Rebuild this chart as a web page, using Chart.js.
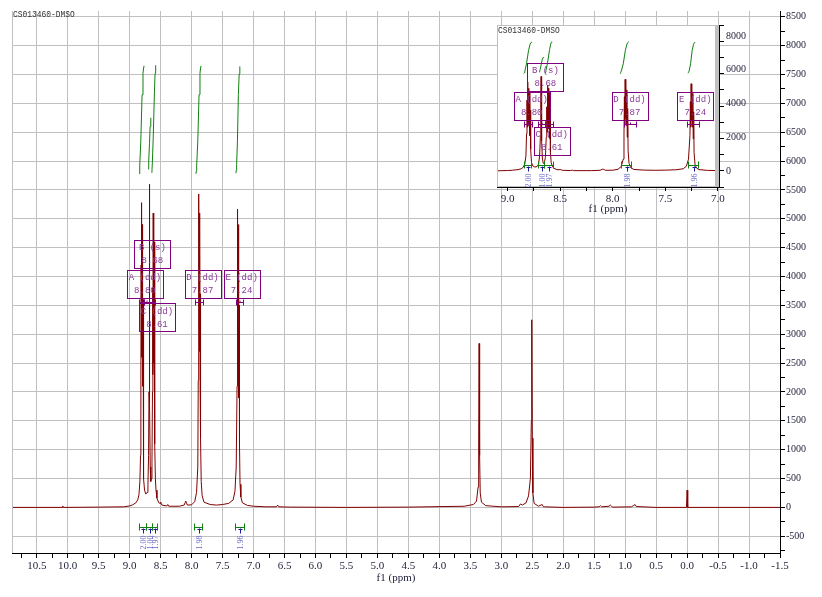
<!DOCTYPE html>
<html lang="en">
<head>
<meta charset="UTF-8">
<title>CS013460-DMSO</title>
<style>
  body { margin: 0; background: #fff; }
  #wrap { position: relative; width: 822px; height: 597px; }
  #mainChart { position: absolute; left: 0; top: 0; }
  #insetChart { position: absolute; left: 480px; top: 12px; }
</style>
</head>
<body>
<div id="wrap">
  <canvas id="mainChart" width="822" height="597"></canvas>
  <canvas id="insetChart" width="290" height="215"></canvas>
</div>
<script src="https://cdn.jsdelivr.net/npm/chart.js"></script>
<script>
// spectrum (ppm / intensity)
const specPpm = [
  10.9, 10.09, 10.08, 10.07, 9.5, 9.1, 9.0, 8.95, 8.9, 8.87, 8.85, 8.835, 8.825,
  8.819, 8.815, 8.812, 8.808, 8.804, 8.800, 8.796, 8.792, 8.788, 8.784, 8.780, 8.772,
  8.76, 8.74, 8.72, 8.705, 8.695,
  8.688, 8.684, 8.681, 8.678, 8.674, 8.668, 8.66, 8.65, 8.64,
  8.632, 8.627, 8.624, 8.620, 8.616, 8.612, 8.608, 8.604, 8.600, 8.596, 8.592, 8.585, 8.575,
  8.56, 8.53, 8.51, 8.50, 8.48, 8.40, 8.385, 8.37, 8.2, 8.12, 8.095, 8.085, 8.07, 8.0, 7.95, 7.92, 7.90,
  7.893, 7.889, 7.886, 7.882, 7.878, 7.874, 7.870, 7.866, 7.862, 7.858, 7.854, 7.845,
  7.83, 7.8, 7.7, 7.6, 7.5, 7.4, 7.33, 7.3, 7.28,
  7.266, 7.262, 7.259, 7.255, 7.251, 7.247, 7.243, 7.239, 7.235, 7.231, 7.227, 7.218,
  7.205, 7.18, 7.1, 7.0, 6.8, 6.63, 6.61, 6.59, 6.4, 5.5, 4.5, 3.6, 3.45, 3.4,
  3.375, 3.365, 3.358, 3.35, 3.34, 3.32, 3.25, 3.0,
  2.72, 2.69, 2.66, 2.6, 2.56, 2.53, 2.515, 2.508, 2.5, 2.49, 2.47, 2.4, 2.34, 2.32, 2.3,
  2.0, 1.5, 1.42, 1.4, 1.38, 1.26, 1.24, 1.22, 1.2, 0.9, 0.86, 0.84, 0.82, 0.5, 0.01, 0.0, -0.01, -1.5
];
const specInt = [
  0, 0, 25, 0, 5, 10, 25, 45, 80, 130, 220, 450, 900,
  2200, 4200, 2600, 5280, 3100, 4900, 2700, 4700, 2100, 3600, 1300, 500,
  300, 230, 260, 400, 900,
  2000, 4200, 5600, 4000, 1800, 700, 450, 500, 800,
  2000, 3800, 2300, 5100, 2900, 4900, 2500, 4600, 1900, 3300, 1100, 500, 300,
  160, 80, 70, 90, 40, 25, 50, 20, 20, 40, 110, 90, 40, 45, 100, 260, 700,
  2200, 4400, 2700, 5430, 3100, 5100, 2700, 4800, 2000, 3700, 1200, 450,
  200, 90, 50, 40, 50, 70, 130, 280, 700,
  2100, 4100, 2600, 5170, 3000, 4900, 2600, 4600, 1900, 3500, 1100, 400,
  180, 80, 35, 20, 10, 10, 40, 10, 5, 0, 5, 20, 50, 110,
  350, 1200, 2840, 900, 250, 90, 30, 10,
  15, 60, 40, 80, 200, 500, 1500, 3250, 1200, 250, 70, 20, 50, 10, 10,
  0, 5, 10, 30, 10, 20, 40, 20, 5, 10, 35, 50, 15, 0, 0, 300, 0, 0
];

// integral curves
const intPpmA = [8.845, 8.84, 8.835, 8.82, 8.80, 8.785, 8.775, 8.77];
const intValA = [5780, 5830, 5930, 6350, 7150, 7520, 7620, 7650];
const intPpmB = [8.70, 8.695, 8.69, 8.68, 8.67, 8.662, 8.656];
const intValB = [5860, 5900, 6000, 6300, 6600, 6720, 6750];
const intPpmC = [8.645, 8.64, 8.635, 8.62, 8.60, 8.59, 8.583, 8.578];
const intValC = [5800, 5850, 5950, 6400, 7200, 7520, 7620, 7660];
const intPpmD = [7.93, 7.925, 7.918, 7.90, 7.88, 7.865, 7.855, 7.85];
const intValD = [5780, 5830, 5930, 6350, 7150, 7520, 7620, 7650];
const intPpmE = [7.285, 7.28, 7.273, 7.26, 7.245, 7.232, 7.224, 7.219];
const intValE = [5790, 5840, 5940, 6350, 7150, 7510, 7610, 7640];

const peakNames = ['A (dd)', 'B (s)', 'C (dd)', 'D (dd)', 'E (dd)'];
const peakShifts = ['8.80', '8.68', '8.61', '7.87', '7.24'];
const integralLabels = ['2.00', '1.00', '1.97', '1.98', '1.96'];
const insetYLabels = [0, 2000, 4000, 6000, 8000];
const titleText = 'CS013460-DMSO';

const pts = (xs, ys) => xs.map((x, i) => ({ x: x, y: ys[i] }));
const isHalf = v => Math.abs(v * 2 - Math.round(v * 2)) < 1e-6;
const tickFont = { family: 'Liberation Serif', size: 11 };

function datasets() {
  const ds = [{ data: pts(specPpm, specInt), borderColor: '#800000', borderWidth: 1 }];
  [[intPpmA, intValA], [intPpmB, intValB], [intPpmC, intValC], [intPpmD, intValD], [intPpmE, intValE]]
    .forEach(p => ds.push({ data: pts(p[0], p[1]), borderColor: '#108010', borderWidth: 1 }));
  ds.forEach(d => { d.showLine = true; d.pointRadius = 0; d.tension = 0; });
  return ds;
}

// labels, range markers, integral markers
const nmrMarks = {
  id: 'nmrMarks',
  beforeDraw(chart, args, o) {
    if (!o.whiteArea) return;
    const a = chart.chartArea, c = chart.ctx;
    c.save();
    c.fillStyle = '#fff';
    c.fillRect(a.left, a.top, a.right - a.left, a.bottom - a.top);
    c.restore();
  },
  afterDraw(chart, args, o) {
    const c = chart.ctx, xs = chart.scales.x, ys = chart.scales.y, a = chart.chartArea;
    c.save();
    if (o.whiteArea) {
      c.strokeStyle = '#c0c0c0';
      c.lineWidth = 1;
      c.strokeRect(a.left + 0.5, a.top + 0.5, a.right - a.left - 1, a.bottom - a.top - 1);
      c.fillStyle = '#c0c0c0';
      c.fillRect(a.right - 4, a.top, 3, a.bottom - a.top);
      // y labels of the inset
      c.font = '10px "Liberation Serif"';
      c.fillStyle = '#1e1e38';
      c.textAlign = 'left';
      c.textBaseline = 'middle';
      insetYLabels.forEach(v => c.fillText(String(v), a.right + 7, ys.getPixelForValue(v)));
    } else {
      c.strokeStyle = '#c0c0c0';
      c.beginPath();
      c.moveTo(a.left + 0.5, a.top); c.lineTo(a.left + 0.5, a.bottom);
      c.stroke();
    }
    c.save();
    c.font = '9px "Liberation Mono"';
    c.fillStyle = '#303030';
    c.textAlign = 'left';
    c.textBaseline = 'middle';
    c.translate(a.left + 1, a.top + o.titleDy);
    c.scale(0.88, 1);
    c.fillText(titleText, 0, 0);
    c.restore();

    // peak label boxes
    c.font = '9px "Liberation Mono"';
    c.textBaseline = 'middle';
    o.boxes.forEach((b, i) => {
      const x = xs.getPixelForValue(b[0]), y = ys.getPixelForValue(b[1]);
      c.strokeStyle = '#800080';
      c.lineWidth = 1;
      c.strokeRect(Math.round(x - 18) + 0.5, Math.round(y - 14) + 0.5, 36, 28);
      c.fillStyle = '#8a3a9a';
      c.textAlign = 'center';
      c.fillText(peakNames[i], x, y - 6);
      c.fillText(peakShifts[i], x, y + 7);
    });

    // multiplet range markers
    const ry = Math.round(ys.getPixelForValue(o.rangeY)) + 0.5;
    c.strokeStyle = '#800080';
    o.ranges.forEach(r => {
      const x1 = Math.round(xs.getPixelForValue(r[0])) + 0.5, x2 = Math.round(xs.getPixelForValue(r[1])) + 0.5;
      c.beginPath();
      c.moveTo(x1, ry); c.lineTo(x2, ry);
      c.moveTo(x1, ry - 3); c.lineTo(x1, ry + 3);
      c.moveTo(x2, ry - 3); c.lineTo(x2, ry + 3);
      c.moveTo((x1 + x2) / 2, ry - 2); c.lineTo((x1 + x2) / 2, ry);
      c.stroke();
    });

    // integral markers with values
    const iy = Math.round(ys.getPixelForValue(o.intY)) + 0.5;
    o.ints.forEach((r, i) => {
      const x1 = Math.round(xs.getPixelForValue(r[0])) + 0.5, x2 = Math.round(xs.getPixelForValue(r[1])) + 0.5;
      const xm = Math.round((x1 + x2) / 2) + 0.5;
      c.strokeStyle = '#108010';
      c.beginPath();
      c.moveTo(x1, iy); c.lineTo(x2, iy);
      c.moveTo(x1, iy - 4); c.lineTo(x1, iy + 3);
      c.moveTo(x2, iy - 4); c.lineTo(x2, iy + 3);
      c.stroke();
      c.strokeStyle = '#1a1aa0';
      c.beginPath();
      c.moveTo(xm, iy + 1); c.lineTo(xm, iy + 6);
      c.moveTo(xm - 2, iy + 2); c.lineTo(xm + 2, iy + 2);
      c.stroke();
      c.save();
      c.translate(xm, iy + 8);
      c.rotate(-Math.PI / 2);
      c.font = '8px "Liberation Serif"';
      c.fillStyle = '#6a6ac8';
      c.textAlign = 'right';
      c.textBaseline = 'middle';
      c.fillText(integralLabels[i], 0, 0);
      c.restore();
    });
    c.restore();
  }
};

function xScale(min, max, h, titlePad) {
  return {
    type: 'linear', reverse: true, min: min, max: max,
    afterFit: s => { s.height = h; },
    ticks: {
      stepSize: 0.25, includeBounds: false, autoSkip: false, maxRotation: 0, padding: 2,
      color: '#1e1e38', font: tickFont,
      callback: v => isHalf(v) ? v.toFixed(1) : ''
    },
    border: { color: '#000', width: 1 },
    title: { display: true, text: 'f1 (ppm)', color: '#1e1e38', font: tickFont, padding: { top: 0, bottom: titlePad } }
  };
}

new Chart(document.getElementById('mainChart'), {
  type: 'scatter',
  data: { datasets: datasets() },
  options: {
    responsive: false,
    animation: false,
    layout: { padding: { left: 12, top: 11, right: 0, bottom: 0 } },
    plugins: {
      legend: { display: false },
      tooltip: { enabled: false },
      nmrMarks: {
        titleDy: 4,
        boxes: [[8.754, 3875], [8.633, 4395], [8.56, 3290], [7.824, 3875], [7.193, 3875]],
        rangeY: 3560,
        ranges: [[8.85, 8.77], [8.77, 8.68], [8.68, 8.59], [7.94, 7.82], [7.29, 7.17]],
        intY: -346,
        ints: [[8.85, 8.74], [8.74, 8.645], [8.645, 8.555], [7.96, 7.83], [7.30, 7.16]]
      }
    },
    scales: {
      x: Object.assign(xScale(-1.5, 10.9, 44, 12), {
        grid: {
          color: ctx => (ctx.tick && isHalf(ctx.tick.value)) ? '#c0c0c0' : 'rgba(0,0,0,0)',
          tickColor: '#000', tickLength: 5
        }
      }),
      y: {
        position: 'right', min: -790, max: 8600,
        afterFit: s => { s.width = 42; },
        ticks: {
          stepSize: 250, includeBounds: false, autoSkip: false, padding: 1, color: '#1e1e38',
          font: { family: 'Liberation Serif', size: 10 },
          callback: v => (v % 500 === 0) ? String(v) : ''
        },
        grid: {
          color: ctx => (ctx.tick && ctx.tick.value % 500 === 0) ? '#c0c0c0' : 'rgba(0,0,0,0)',
          tickColor: '#000', tickLength: 5
        },
        border: { color: '#000', width: 1 }
      }
    }
  },
  plugins: [nmrMarks]
});

new Chart(document.getElementById('insetChart'), {
  type: 'scatter',
  data: { datasets: datasets() },
  options: {
    responsive: false,
    animation: false,
    layout: { padding: { left: 17, top: 13, right: 0, bottom: 0 } },
    plugins: {
      legend: { display: false },
      tooltip: { enabled: false },
      nmrMarks: {
        whiteArea: true,
        titleDy: 6,
        boxes: [[8.77, 3850], [8.64, 5590], [8.58, 1800], [7.84, 3850], [7.215, 3850]],
        rangeY: 2780,
        ranges: [[8.845, 8.77], [8.715, 8.645], [8.645, 8.57], [7.89, 7.78], [7.29, 7.18]],
        intY: 350,
        ints: [[8.845, 8.775], [8.706, 8.652], [8.652, 8.566], [7.925, 7.83], [7.28, 7.19]]
      }
    },
    scales: {
      x: Object.assign(xScale(6.99, 9.1, 40, 11), {
        grid: { drawOnChartArea: false, color: '#000', tickColor: '#000', tickLength: 4 }
      }),
      y: {
        position: 'right', min: -950, max: 8650,
        afterFit: s => { s.width = 51; },
        ticks: { stepSize: 1000, includeBounds: false, display: false },
        grid: { drawOnChartArea: false, color: '#000', tickColor: '#000', tickLength: 5 },
        border: { color: '#000', width: 1 }
      }
    }
  },
  plugins: [nmrMarks]
});
</script>
</body>
</html>
